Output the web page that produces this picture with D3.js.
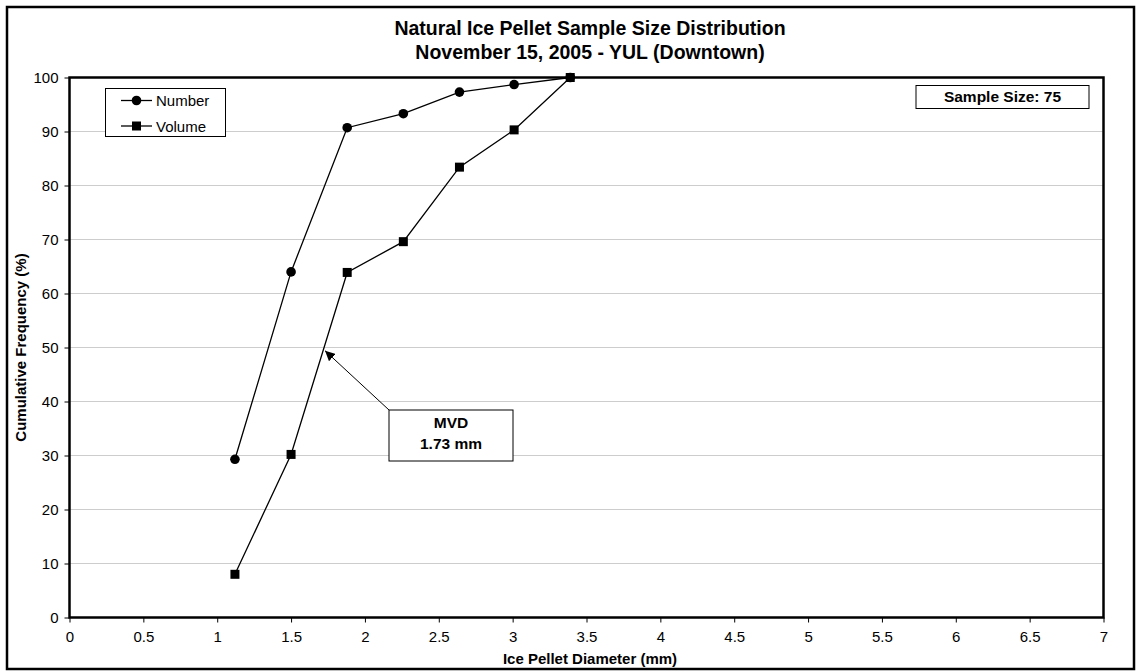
<!DOCTYPE html>
<html>
<head>
<meta charset="utf-8">
<script src="https://cdn.jsdelivr.net/npm/d3@7"></script>
<style>
  html, body { margin: 0; padding: 0; background: #fff; }
  svg { display: block; font-family: "Liberation Sans", Arial, sans-serif; }
</style>
</head>
<body>
<svg id="chart" width="1141" height="671"></svg>
<script>
// Cumulative size distribution of ice pellets, bin centres in mm
const diameters = [1.12, 1.50, 1.88, 2.26, 2.64, 3.01, 3.39];
const numberPct = [29.3, 64.0, 90.7, 93.3, 97.3, 98.7, 100];
const volumePct = [8.0, 30.2, 63.9, 69.6, 83.4, 90.3, 100];
const xTicks = [0, 0.5, 1, 1.5, 2, 2.5, 3, 3.5, 4, 4.5, 5, 5.5, 6, 6.5, 7];
const yTicks = [0, 10, 20, 30, 40, 50, 60, 70, 80, 90, 100];
const titleLines = ["Natural Ice Pellet Sample Size Distribution", "November 15, 2005 - YUL (Downtown)"];
const mvd = { x: 1.73, y: 49.4, label: ["MVD", "1.73 mm"] };
const sampleSize = 75;

const svg = d3.select("#chart");
const plot = { left: 69.5, right: 1103.5, top: 77.5, bottom: 617.5 };
const labelSize = 15;

const x = d3.scaleLinear().domain([0, 7]).range([plot.left, plot.right]);
const y = d3.scaleLinear().domain([0, 100]).range([plot.bottom, plot.top]);

// outer chart border
svg.append("rect")
  .attr("x", 7).attr("y", 7).attr("width", 1127).attr("height", 662)
  .attr("fill", "#fff").attr("stroke", "#000").attr("stroke-width", 2.5);

// titles
svg.selectAll("text.title").data(titleLines).join("text")
  .attr("class", "title")
  .attr("x", 590).attr("y", (d, i) => 35 + i * 23.5)
  .attr("text-anchor", "middle")
  .attr("font-size", 19.5).attr("font-weight", "bold")
  .text(d => d);

// horizontal gridlines
svg.append("g").selectAll("line").data(yTicks.filter(v => v > 0 && v < 100)).join("line")
  .attr("x1", plot.left).attr("x2", plot.right)
  .attr("y1", d => y(d)).attr("y2", d => y(d))
  .attr("stroke", "#9a9a9a").attr("stroke-width", 1).attr("stroke-dasharray", "1,1");

// axes
const xAxis = svg.append("g")
  .attr("transform", `translate(0,${plot.bottom})`)
  .call(d3.axisBottom(x).tickValues(xTicks).tickSize(5).tickSizeOuter(0).tickFormat(d3.format("")));
const yAxis = svg.append("g")
  .attr("transform", `translate(${plot.left},0)`)
  .call(d3.axisLeft(y).tickValues(yTicks).tickSize(5).tickSizeOuter(0));
[xAxis, yAxis].forEach(g => {
  g.select(".domain").remove();
  g.selectAll("text").attr("font-size", labelSize).attr("fill", "#000")
    .attr("font-family", "'Liberation Sans', Arial, sans-serif");
  g.selectAll("line").attr("stroke", "#000");
});
xAxis.selectAll("text").attr("dy", "1.1em");
yAxis.selectAll("text").attr("dx", "-0.2em");

// plot frame
svg.append("rect")
  .attr("x", plot.left).attr("y", plot.top)
  .attr("width", plot.right - plot.left).attr("height", plot.bottom - plot.top)
  .attr("fill", "none").attr("stroke", "#000").attr("stroke-width", 2.5);

// axis titles
svg.append("text")
  .attr("x", 590).attr("y", 664)
  .attr("text-anchor", "middle").attr("font-size", labelSize).attr("font-weight", "bold")
  .text("Ice Pellet Diameter (mm)");
svg.append("text")
  .attr("transform", `translate(26,${(plot.top + plot.bottom) / 2}) rotate(-90)`)
  .attr("text-anchor", "middle").attr("font-size", labelSize).attr("font-weight", "bold")
  .text("Cumulative Frequency (%)");

// series lines and markers
const line = d3.line().x(d => x(d[0])).y(d => y(d[1]));
const numberData = diameters.map((d, i) => [d, numberPct[i]]);
const volumeData = diameters.map((d, i) => [d, volumePct[i]]);

svg.append("path").datum(numberData).attr("d", line)
  .attr("fill", "none").attr("stroke", "#000").attr("stroke-width", 1.3);
svg.append("path").datum(volumeData).attr("d", line)
  .attr("fill", "none").attr("stroke", "#000").attr("stroke-width", 1.3);

svg.append("g").selectAll("circle").data(numberData).join("circle")
  .attr("cx", d => x(d[0])).attr("cy", d => y(d[1])).attr("r", 4.8).attr("fill", "#000");
svg.append("g").selectAll("rect").data(volumeData).join("rect")
  .attr("x", d => x(d[0]) - 4.5).attr("y", d => y(d[1]) - 4.5)
  .attr("width", 9).attr("height", 9).attr("fill", "#000");

// MVD callout
const boxX = 389, boxY = 410, boxW = 124, boxH = 51;
svg.append("defs").append("marker")
  .attr("id", "arrowhead").attr("viewBox", "0 0 10 10")
  .attr("refX", 10).attr("refY", 5)
  .attr("markerWidth", 10).attr("markerHeight", 10)
  .attr("markerUnits", "userSpaceOnUse")
  .attr("orient", "auto")
  .append("path").attr("d", "M0,0 L10,5 L0,10 z").attr("fill", "#000");
svg.append("line")
  .attr("x1", boxX).attr("y1", boxY)
  .attr("x2", x(mvd.x)).attr("y2", y(mvd.y))
  .attr("stroke", "#000").attr("stroke-width", 1)
  .attr("marker-end", "url(#arrowhead)");
svg.append("rect")
  .attr("x", boxX).attr("y", boxY).attr("width", boxW).attr("height", boxH)
  .attr("fill", "#fff").attr("stroke", "#000").attr("stroke-width", 1);
svg.selectAll("text.mvd").data(mvd.label).join("text")
  .attr("class", "mvd")
  .attr("x", boxX + boxW / 2).attr("y", (d, i) => boxY + 17.5 + i * 21)
  .attr("text-anchor", "middle").attr("font-size", 15.5).attr("font-weight", "bold")
  .text(d => d);

// sample size box
svg.append("rect")
  .attr("x", 916).attr("y", 85.5).attr("width", 173).attr("height", 23)
  .attr("fill", "#fff").attr("stroke", "#000").attr("stroke-width", 1);
svg.append("text")
  .attr("x", 1002.5).attr("y", 101.5)
  .attr("text-anchor", "middle").attr("font-size", 15.5).attr("font-weight", "bold")
  .text(`Sample Size: ${sampleSize}`);

// legend
const legend = svg.append("g");
legend.append("rect")
  .attr("x", 105.5).attr("y", 88.5).attr("width", 120).attr("height", 48)
  .attr("fill", "#fff").attr("stroke", "#000").attr("stroke-width", 1);
const legendItems = [
  { name: "Number", shape: "circle" },
  { name: "Volume", shape: "square" }
];
legendItems.forEach((item, i) => {
  const cy = 100.5 + i * 25.5;
  legend.append("line").attr("x1", 121).attr("x2", 152).attr("y1", cy).attr("y2", cy)
    .attr("stroke", "#000").attr("stroke-width", 1.3);
  if (item.shape === "circle") {
    legend.append("circle").attr("cx", 136.5).attr("cy", cy).attr("r", 4.8).attr("fill", "#000");
  } else {
    legend.append("rect").attr("x", 132).attr("y", cy - 4.5).attr("width", 9).attr("height", 9).attr("fill", "#000");
  }
  legend.append("text").attr("x", 156).attr("y", cy + 5.5)
    .attr("font-size", labelSize).text(item.name);
});
</script>
</body>
</html>
